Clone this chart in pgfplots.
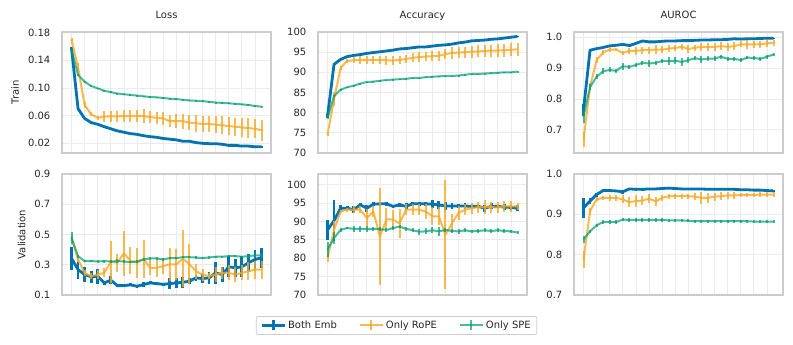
\documentclass[border=0pt]{standalone}
\usepackage{fontspec}
\setmainfont{DejaVu Sans}
\usepackage{pgfplots}
\usepackage{pgfplotstable}
\pgfplotsset{compat=1.18}

\definecolor{cb}{HTML}{0173B2}
\definecolor{co}{HTML}{F9A825}
\definecolor{cg}{HTML}{009E73}
\definecolor{gridc}{HTML}{EBEBEB}
\definecolor{framec}{HTML}{CCCCCC}
\definecolor{labc}{HTML}{262626}

% columns: epoch, Both Emb (mean, sd), Only RoPE, Only SPE
\pgfplotstableread{
x b be r re s se
0 0.158 0.0008 0.170 0.002 0.155 0.001
1 0.070 0.0008 0.130 0.006 0.119 0.001
2 0.056 0.0008 0.0754 0.004 0.109 0.001
3 0.050 0.0008 0.062 0.003 0.103 0.001
4 0.0475 0.0008 0.057 0.003 0.0995 0.001
5 0.044 0.0008 0.0586 0.008 0.096 0.001
6 0.041 0.0008 0.059 0.008 0.094 0.001
7 0.038 0.0008 0.059 0.008 0.092 0.001
8 0.036 0.0008 0.0595 0.008 0.091 0.001
9 0.034 0.0008 0.0595 0.008 0.090 0.001
10 0.033 0.0008 0.0595 0.009 0.089 0.001
11 0.031 0.0008 0.0595 0.010 0.088 0.001
12 0.0296 0.0008 0.058 0.009 0.087 0.001
13 0.0287 0.0008 0.057 0.009 0.0865 0.001
14 0.027 0.0008 0.056 0.009 0.0855 0.001
15 0.026 0.0008 0.052 0.009 0.0846 0.001
16 0.025 0.0008 0.052 0.010 0.084 0.001
17 0.023 0.0008 0.052 0.011 0.083 0.001
18 0.023 0.0008 0.050 0.011 0.082 0.001
19 0.021 0.0008 0.049 0.012 0.0815 0.001
20 0.020 0.0008 0.048 0.012 0.081 0.001
21 0.0195 0.0008 0.048 0.012 0.080 0.001
22 0.0195 0.0008 0.047 0.012 0.079 0.001
23 0.0186 0.0008 0.046 0.013 0.0785 0.001
24 0.017 0.0008 0.045 0.013 0.078 0.001
25 0.017 0.0008 0.044 0.013 0.077 0.001
26 0.016 0.0008 0.043 0.014 0.0764 0.001
27 0.016 0.0008 0.042 0.014 0.0755 0.001
28 0.015 0.0008 0.041 0.014 0.074 0.001
29 0.015 0.0008 0.039 0.015 0.073 0.001
}\losstrain

\pgfplotstableread{
x b be r re s se
0 79.1 0.5 74.6 0.3 78.7 0.3
1 92.0 0.2 83.3 1.7 84.1 0.2
2 93.2 0.2 91.1 0.4 85.7 0.1
3 93.9 0.1 92.8 0.5 86.3 0.1
4 94.2 0.1 93.0 0.8 86.7 0.1
5 94.4 0.1 93.0 1.0 87.2 0.1
6 94.7 0.1 93.0 1.0 87.6 0.1
7 94.9 0.1 93.0 1.0 87.7 0.1
8 95.1 0.1 93.0 1.0 87.9 0.1
9 95.3 0.1 93.0 1.1 88.1 0.1
10 95.5 0.1 92.9 1.1 88.2 0.1
11 95.8 0.1 93.1 1.0 88.3 0.1
12 95.9 0.1 93.3 1.0 88.4 0.1
13 96.1 0.1 93.6 1.1 88.6 0.1
14 96.3 0.1 93.8 1.2 88.6 0.1
15 96.3 0.1 93.9 1.2 88.8 0.1
16 96.5 0.1 94.0 1.2 88.9 0.1
17 96.7 0.1 94.1 1.3 89.0 0.1
18 96.8 0.1 94.5 1.3 89.1 0.1
19 97.0 0.1 94.8 1.4 89.1 0.1
20 97.3 0.1 94.9 1.4 89.2 0.1
21 97.5 0.1 95.0 1.4 89.4 0.1
22 97.8 0.1 95.1 1.5 89.6 0.1
23 97.9 0.1 95.2 1.5 89.6 0.1
24 98.0 0.1 95.3 1.5 89.7 0.1
25 98.2 0.1 95.4 1.5 89.8 0.1
26 98.3 0.1 95.4 1.6 89.9 0.1
27 98.5 0.1 95.5 1.6 90.0 0.1
28 98.7 0.1 95.6 1.6 90.0 0.1
29 98.9 0.1 95.7 1.6 90.2 0.1
}\acctrain

\pgfplotstableread{
x b be r re s se
0 0.765 0.020 0.668 0.025 0.743 0.020
1 0.958 0.003 0.840 0.012 0.838 0.010
2 0.963 0.003 0.926 0.010 0.872 0.008
3 0.967 0.003 0.951 0.008 0.890 0.010
4 0.972 0.004 0.960 0.008 0.894 0.008
5 0.974 0.003 0.960 0.006 0.891 0.006
6 0.977 0.003 0.949 0.008 0.906 0.012
7 0.973 0.005 0.956 0.010 0.904 0.006
8 0.980 0.003 0.956 0.012 0.910 0.006
9 0.988 0.002 0.958 0.012 0.917 0.006
10 0.985 0.002 0.958 0.012 0.915 0.010
11 0.985 0.002 0.960 0.015 0.917 0.006
12 0.987 0.002 0.960 0.012 0.923 0.008
13 0.988 0.002 0.963 0.012 0.923 0.012
14 0.988 0.002 0.965 0.010 0.924 0.012
15 0.989 0.002 0.969 0.010 0.920 0.012
16 0.989 0.002 0.962 0.012 0.926 0.010
17 0.990 0.002 0.966 0.010 0.932 0.006
18 0.991 0.002 0.969 0.012 0.928 0.010
19 0.991 0.002 0.969 0.012 0.931 0.008
20 0.992 0.002 0.969 0.012 0.931 0.008
21 0.992 0.002 0.971 0.012 0.937 0.006
22 0.993 0.002 0.969 0.012 0.930 0.006
23 0.995 0.002 0.971 0.012 0.930 0.006
24 0.994 0.002 0.977 0.010 0.926 0.006
25 0.995 0.002 0.977 0.015 0.934 0.006
26 0.995 0.002 0.977 0.012 0.933 0.006
27 0.996 0.002 0.977 0.012 0.930 0.006
28 0.997 0.002 0.980 0.010 0.937 0.006
29 0.997 0.002 0.982 0.010 0.944 0.006
}\auctrain

\pgfplotstableread{
x b be r re s se
0 0.343 0.075 0.479 0.020 0.479 0.040
1 0.268 0.060 0.335 0.020 0.357 0.010
2 0.235 0.050 0.246 0.020 0.324 0.008
3 0.220 0.040 0.224 0.020 0.324 0.008
4 0.224 0.050 0.235 0.030 0.322 0.008
5 0.180 0.015 0.246 0.030 0.324 0.010
6 0.198 0.025 0.320 0.140 0.322 0.008
7 0.162 0.010 0.313 0.060 0.324 0.012
8 0.162 0.010 0.376 0.150 0.322 0.008
9 0.167 0.010 0.327 0.090 0.317 0.008
10 0.158 0.010 0.313 0.100 0.322 0.008
11 0.169 0.015 0.338 0.125 0.335 0.008
12 0.180 0.010 0.280 0.050 0.342 0.010
13 0.175 0.010 0.280 0.060 0.342 0.008
14 0.171 0.010 0.291 0.050 0.335 0.010
15 0.175 0.035 0.302 0.110 0.344 0.008
16 0.180 0.035 0.302 0.100 0.344 0.008
17 0.184 0.035 0.340 0.190 0.350 0.008
18 0.191 0.020 0.304 0.130 0.350 0.008
19 0.213 0.020 0.257 0.050 0.348 0.008
20 0.209 0.030 0.235 0.040 0.344 0.008
21 0.213 0.040 0.224 0.020 0.348 0.008
22 0.246 0.070 0.235 0.050 0.353 0.008
23 0.235 0.050 0.246 0.040 0.353 0.008
24 0.286 0.070 0.246 0.050 0.357 0.008
25 0.280 0.060 0.235 0.050 0.357 0.008
26 0.286 0.070 0.246 0.050 0.353 0.008
27 0.313 0.060 0.257 0.060 0.357 0.010
28 0.335 0.065 0.268 0.060 0.362 0.010
29 0.346 0.067 0.268 0.060 0.362 0.010
}\lossval

\pgfplotstableread{
x b be r re s se
0 87.7 2.8 80.1 1.0 82.3 2.0
1 90.2 5.5 87.7 2.5 85.5 1.5
2 93.6 0.8 92.7 0.5 87.7 0.5
3 93.6 0.5 93.2 0.5 88.2 0.3
4 93.2 1.0 93.2 1.0 88.0 0.8
5 94.5 0.5 93.2 1.0 88.0 0.8
6 93.6 1.0 90.9 2.5 87.9 0.8
7 94.7 0.5 92.7 1.5 88.0 0.5
8 94.8 0.5 85.9 13.3 87.9 0.6
9 94.8 0.5 90.6 3.0 87.7 0.5
10 94.1 0.5 90.5 2.5 88.2 0.6
11 94.5 0.5 89.5 4.0 88.6 0.5
12 94.1 0.8 93.2 1.5 88.0 0.6
13 94.8 0.5 93.2 1.5 87.6 0.6
14 94.8 0.5 93.2 1.5 87.2 0.8
15 94.8 0.5 92.7 2.0 87.3 0.8
16 94.7 1.0 91.4 2.5 87.6 0.8
17 94.5 1.0 91.4 2.5 87.3 1.2
18 94.2 1.0 86.4 14.9 87.7 0.6
19 94.2 0.8 89.5 2.5 87.4 0.6
20 94.2 0.5 92.3 2.0 87.3 0.6
21 94.2 0.8 93.2 1.5 87.6 0.6
22 94.1 0.5 93.6 1.5 87.3 0.5
23 94.1 0.5 93.9 1.5 87.4 0.5
24 93.6 1.0 93.9 2.0 87.6 0.5
25 94.1 0.8 93.9 1.5 87.4 0.5
26 94.1 0.5 93.8 1.5 87.6 0.5
27 93.9 0.8 94.1 1.5 87.4 0.5
28 93.8 0.8 94.1 1.5 87.3 0.5
29 93.6 0.8 94.1 1.0 87.0 0.5
}\accval

\pgfplotstableread{
x b be r re s se
0 0.916 0.025 0.788 0.020 0.838 0.008
1 0.933 0.008 0.908 0.008 0.858 0.004
2 0.949 0.005 0.937 0.005 0.873 0.004
3 0.959 0.003 0.941 0.005 0.881 0.004
4 0.959 0.003 0.941 0.008 0.881 0.004
5 0.958 0.003 0.941 0.008 0.881 0.004
6 0.956 0.005 0.937 0.010 0.887 0.004
7 0.963 0.003 0.930 0.012 0.886 0.004
8 0.962 0.003 0.933 0.015 0.886 0.004
9 0.962 0.003 0.934 0.012 0.886 0.004
10 0.963 0.003 0.939 0.012 0.886 0.004
11 0.963 0.002 0.932 0.012 0.886 0.004
12 0.964 0.002 0.941 0.008 0.886 0.004
13 0.965 0.002 0.945 0.006 0.885 0.004
14 0.964 0.002 0.945 0.006 0.885 0.004
15 0.963 0.002 0.945 0.006 0.885 0.004
16 0.963 0.002 0.945 0.006 0.884 0.004
17 0.963 0.002 0.944 0.008 0.883 0.004
18 0.963 0.002 0.941 0.015 0.883 0.004
19 0.962 0.002 0.941 0.012 0.883 0.004
20 0.962 0.002 0.944 0.010 0.883 0.004
21 0.962 0.002 0.945 0.010 0.883 0.004
22 0.962 0.002 0.947 0.008 0.883 0.004
23 0.962 0.002 0.947 0.008 0.883 0.004
24 0.961 0.002 0.948 0.006 0.883 0.004
25 0.961 0.002 0.948 0.006 0.883 0.004
26 0.960 0.002 0.948 0.006 0.882 0.004
27 0.960 0.002 0.949 0.006 0.882 0.004
28 0.959 0.002 0.949 0.006 0.882 0.004
29 0.958 0.002 0.949 0.006 0.882 0.004
}\aucval

\newcommand{\fs}{\fontsize{10bp}{12bp}\selectfont}

\pgfplotsset{
  panel/.style={
    scale only axis, width=209bp, height=121bp, anchor=south west,
    xmin=-1.45, xmax=30.45, xtick={0,2,...,28}, xticklabels={},
    major tick length=0pt, minor tick length=0pt,
    grid=major, grid style={draw=gridc, line width=0.8bp},
    axis line style={draw=framec, line width=1.1bp},
    tick label style={font=\fs, text=labc},
    yticklabel style={inner xsep=0pt, xshift=-11.5bp},
    /pgf/number format/assume math mode=true,
    every axis title/.style={at={(0.5,1)}, anchor=base, yshift=13.4bp, font=\fs, text=labc},
    every axis y label/.style={at={(ticklabel cs:0.5,8.8bp)}, rotate=90, anchor=south, inner sep=0pt, font=\fs, text=labc},
  },
  eb/.style={/pgfplots/error bars/y dir=both, /pgfplots/error bars/y explicit,
    /pgfplots/error bars/error mark=none,
    /pgfplots/error bars/error bar style={line width=#1}},
  sb/.style={draw=cb, line width=2.8bp, line join=round},
  so/.style={draw=co, line width=2bp, opacity=0.8, line join=round},
  sg/.style={draw=cg, line width=2bp, opacity=0.7, line join=round},
  legimg/.style={legend image code/.code={
    \draw[##1] (0bp,0bp) -- (23bp,0bp);
    \draw[##1] (11.5bp,-5bp) -- (11.5bp,5bp);}},
}

\newcommand{\series}[1]{%
  \addplot[sb, mark=none, eb=2.8bp, forget plot] table[x=x, y=b, y error=be] {#1};
  \addplot[so, mark=none, eb=2bp, forget plot] table[x=x, y=r, y error=re] {#1};
  \addplot[sg, mark=none, eb=2bp, forget plot] table[x=x, y=s, y error=se] {#1};
}

\begin{document}
\begin{tikzpicture}
\useasboundingbox (0bp,0bp) rectangle (793bp,345bp);

\begin{axis}[panel, at={(62bp,192bp)}, title={Loss}, ylabel={Train},
  ymin=0.006, ymax=0.181, ytick={0.02,0.06,0.10,0.14,0.18},
  yticklabel style={/pgf/number format/.cd, fixed, fixed zerofill, precision=2}]
  \series{\losstrain}
\end{axis}

\begin{axis}[panel, at={(318bp,192bp)}, title={Accuracy},
  ymin=70, ymax=100, ytick={70,75,...,100}]
  \series{\acctrain}
\end{axis}

\begin{axis}[panel, at={(574bp,192bp)}, title={AUROC},
  ymin=0.625, ymax=1.017, ytick={0.7,0.8,0.9,1.0},
  yticklabel style={/pgf/number format/.cd, fixed, fixed zerofill, precision=1}]
  \series{\auctrain}
\end{axis}

\begin{axis}[panel, at={(62bp,50bp)}, ylabel={Validation},
  ymin=0.1, ymax=0.9, ytick={0.1,0.3,0.5,0.7,0.9},
  yticklabel style={/pgf/number format/.cd, fixed, fixed zerofill, precision=1}]
  \series{\lossval}
\end{axis}

\begin{axis}[panel, at={(318bp,50bp)},
  ymin=70, ymax=102.9, ytick={70,75,...,100},
  legend columns=3,
  legend style={at={(0.3756,-0.1736)}, anchor=north, draw=framec, line width=0.8bp,
    rounded corners=2bp, font=\fs, text=labc, inner xsep=4bp, inner ysep=2.5bp,
    /tikz/every even column/.append style={column sep=20bp}},
  legend cell align=left]
  \series{\accval}
  \addlegendimage{sb, legimg}
  \addlegendentry{Both Emb}
  \addlegendimage{so, legimg}
  \addlegendentry{Only RoPE}
  \addlegendimage{sg, legimg}
  \addlegendentry{Only SPE}
\end{axis}

\begin{axis}[panel, at={(574bp,50bp)},
  ymin=0.7, ymax=1.0, ytick={0.7,0.8,0.9,1.0},
  yticklabel style={/pgf/number format/.cd, fixed, fixed zerofill, precision=1}]
  \series{\aucval}
\end{axis}

\end{tikzpicture}
\end{document}
